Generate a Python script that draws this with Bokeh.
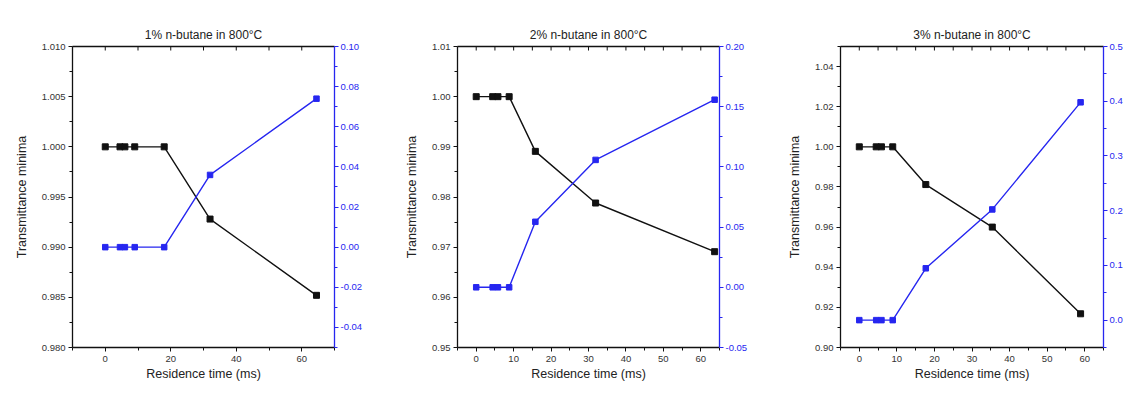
import math
from bokeh.plotting import figure
from bokeh.layouts import row
from bokeh.models import (Range1d, LinearAxis, FixedTicker, PrintfTickFormatter, Label)
from bokeh.embed import file_html
from bokeh.resources import INLINE

# ---------------- data ----------------
titles = ["1% n-butane in 800°C", "2% n-butane in 800°C", "3% n-butane in 800°C"]

time1 = [0, 4.5, 6, 9, 18, 32, 64.5]
trans1 = [1.000, 1.000, 1.000, 1.000, 1.000, 0.9928, 0.9852]
mole1 = [0.0, 0.0, 0.0, 0.0, 0.0, 0.036, 0.074]

time2 = [0, 4.4, 5.8, 8.8, 15.8, 31.9, 63.7]
trans2 = [1.000, 1.000, 1.000, 1.000, 0.9891, 0.9788, 0.9691]
mole2 = [0.0, 0.0, 0.0, 0.0, 0.0544, 0.1058, 0.1558]

time3 = [0, 4.5, 5.9, 8.9, 17.7, 35.4, 58.9]
trans3 = [1.000, 1.000, 1.000, 1.000, 0.9812, 0.9600, 0.9168]
mole3 = [0.0, 0.0, 0.0, 0.0, 0.0947, 0.2023, 0.398]

# axis ranges and ticks
x_range1 = (-10, 70)
x_ticks1 = [0, 20, 40, 60]
x_minor1 = [-10, 10, 30, 50, 70]
top_ticks1 = [-10, 0, 10, 20, 30, 40, 50, 60, 70]
y_range1 = (0.980, 1.010)
y_ticks1 = [0.980, 0.985, 0.990, 0.995, 1.000, 1.005, 1.010]
y_minor1 = [0.9825, 0.9875, 0.9925, 0.9975, 1.0025, 1.0075]
r_range1 = (-0.05, 0.10)
r_ticks1 = [-0.04, -0.02, 0.00, 0.02, 0.04, 0.06, 0.08, 0.10]
r_minor1 = [-0.05, -0.03, -0.01, 0.01, 0.03, 0.05, 0.07, 0.09]

x_range2 = (-5, 65)
x_ticks2 = [0, 10, 20, 30, 40, 50, 60]
x_minor2 = [-5, 5, 15, 25, 35, 45, 55, 65]
top_ticks2 = [-5, 0, 5, 10, 15, 20, 25, 30, 35, 40, 45, 50, 55, 60, 65]
y_range2 = (0.95, 1.01)
y_ticks2 = [0.95, 0.96, 0.97, 0.98, 0.99, 1.00, 1.01]
y_minor2 = [0.955, 0.965, 0.975, 0.985, 0.995, 1.005]
r_range2 = (-0.05, 0.20)
r_ticks2 = [-0.05, 0.00, 0.05, 0.10, 0.15, 0.20]
r_minor2 = [-0.025, 0.025, 0.075, 0.125, 0.175]

x_range3 = (-5, 65)
x_ticks3 = [0, 10, 20, 30, 40, 50, 60]
x_minor3 = [-5, 5, 15, 25, 35, 45, 55, 65]
top_ticks3 = [-5, 0, 5, 10, 15, 20, 25, 30, 35, 40, 45, 50, 55, 60, 65]
y_range3 = (0.90, 1.05)
y_ticks3 = [0.90, 0.92, 0.94, 0.96, 0.98, 1.00, 1.02, 1.04]
y_minor3 = [0.91, 0.93, 0.95, 0.97, 0.99, 1.01, 1.03, 1.05]
r_range3 = (-0.05, 0.5)
r_ticks3 = [0.0, 0.1, 0.2, 0.3, 0.4, 0.5]
r_minor3 = [-0.05, 0.05, 0.15, 0.25, 0.35, 0.45]

mole_label = "Mole fraction (%)"
BLUE = "#2626f0"
FONT = "Liberation Sans"
FIG_H = 405
BORDER_TOP = 46
BORDER_BOTTOM = 58


def make_panel(title, t, trans, mole, xr, xt, xm, topt, yr, yt, ym, yfmt,
               rr, rt, rm, rfmt, width, bl, br, roff):
    p = figure(width=width, height=FIG_H, output_backend="svg", toolbar_location=None,
               x_range=Range1d(*xr), y_range=Range1d(*yr),
               min_border_left=bl, min_border_right=br,
               min_border_top=BORDER_TOP, min_border_bottom=BORDER_BOTTOM,
               title=title)
    p.title.align = "center"
    p.title.text_font = FONT
    p.title.text_font_size = "12px"
    p.title.text_font_style = "normal"
    p.title.text_color = "#222222"
    p.outline_line_color = None
    p.xgrid.visible = False
    p.ygrid.visible = False
    p.background_fill_color = "white"
    p.border_fill_color = "white"

    p.extra_y_ranges = {"mole": Range1d(*rr)}

    # bottom axis
    xa = p.xaxis[0]
    xa.ticker = FixedTicker(ticks=xt, minor_ticks=xm)
    xa.axis_label = "Residence time (ms)"
    # left axis
    ya = p.yaxis[0]
    ya.ticker = FixedTicker(ticks=yt, minor_ticks=ym)
    ya.formatter = PrintfTickFormatter(format=yfmt)
    ya.axis_label = "Transmittance minima"
    for ax in (xa, ya):
        ax.axis_line_color = "#111111"
        ax.axis_line_width = 1.3
        ax.major_tick_line_color = "#111111"
        ax.minor_tick_line_color = "#111111"
        ax.major_tick_in = 0
        ax.major_tick_out = 4
        ax.minor_tick_in = 0
        ax.minor_tick_out = 3
        ax.major_label_text_font = FONT
        ax.major_label_text_font_size = "9.5px"
        ax.major_label_text_color = "#333333"
        ax.axis_label_text_font = FONT
        ax.axis_label_text_font_size = "12.5px"
        ax.axis_label_text_font_style = "normal"
        ax.axis_label_text_color = "#222222"
    xa.major_label_standoff = 4
    xa.axis_label_standoff = 2
    ya.major_label_standoff = 3
    ya.axis_label_standoff = 10

    # top axis line only
    ta = LinearAxis(ticker=FixedTicker(ticks=[], minor_ticks=[]))
    ta.major_tick_in = 0
    ta.major_tick_out = 0
    ta.minor_tick_in = 0
    ta.minor_tick_out = 0
    ta.major_label_standoff = 0
    ta.axis_line_color = "#111111"
    ta.axis_line_width = 1.3
    p.add_layout(ta, "above")
    # inward mirror ticks on the top edge (half of each dash is clipped by the frame)
    p.scatter(topt, [yr[1]] * len(topt), marker="dash", angle=math.pi / 2, size=8,
              line_color="#111111", line_width=1)

    # right axis (mole fraction)
    ra = LinearAxis(y_range_name="mole", ticker=FixedTicker(ticks=rt, minor_ticks=rm),
                    formatter=PrintfTickFormatter(format=rfmt))
    ra.axis_line_color = BLUE
    ra.axis_line_width = 1.3
    ra.major_tick_line_color = BLUE
    ra.minor_tick_line_color = BLUE
    ra.major_tick_in = 0
    ra.major_tick_out = 4
    ra.minor_tick_in = 0
    ra.minor_tick_out = 3
    ra.major_label_text_font = FONT
    ra.major_label_text_font_size = "9.5px"
    ra.major_label_text_color = BLUE
    ra.major_label_standoff = 2
    p.add_layout(ra, "right")

    # right axis title: screen-unit label centred beside the frame, reading bottom-to-top
    frame_w = width - bl - br
    frame_h = FIG_H - BORDER_TOP - BORDER_BOTTOM
    lab = Label(x=frame_w + roff, y=frame_h / 2, x_units="screen", y_units="screen",
                text=mole_label, angle=math.pi / 2,
                text_align="center", text_baseline="middle",
                text_font=FONT, text_font_size="12.5px", text_color=BLUE)
    p.add_layout(lab)

    # series
    p.line(t, trans, line_color="#111111", line_width=1.4)
    p.scatter(t, trans, marker="square", size=6, fill_color="#111111", line_color="#111111")
    p.line(t, mole, line_color=BLUE, line_width=1.4, y_range_name="mole")
    p.scatter(t, mole, marker="square", size=5.5, fill_color=BLUE, line_color=BLUE,
              y_range_name="mole")
    return p


p1 = make_panel(titles[0], time1, trans1, mole1, x_range1, x_ticks1, x_minor1, top_ticks1,
                y_range1, y_ticks1, y_minor1, "%.3f", r_range1, r_ticks1, r_minor1, "%.2f",
                380, 72, 46, 28)
p2 = make_panel(titles[1], time2, trans2, mole2, x_range2, x_ticks2, x_minor2, top_ticks2,
                y_range2, y_ticks2, y_minor2, "%.2f", r_range2, r_ticks2, r_minor2, "%.2f",
                380, 77, 41, 27)
p3 = make_panel(titles[2], time3, trans3, mole3, x_range3, x_ticks3, x_minor3, top_ticks3,
                y_range3, y_ticks3, y_minor3, "%.2f", r_range3, r_ticks3, r_minor3, "%.1f",
                383, 80, 40, 27)

layout = row(p1, p2, p3)
open("out.html", "w").write(file_html(layout, INLINE))
